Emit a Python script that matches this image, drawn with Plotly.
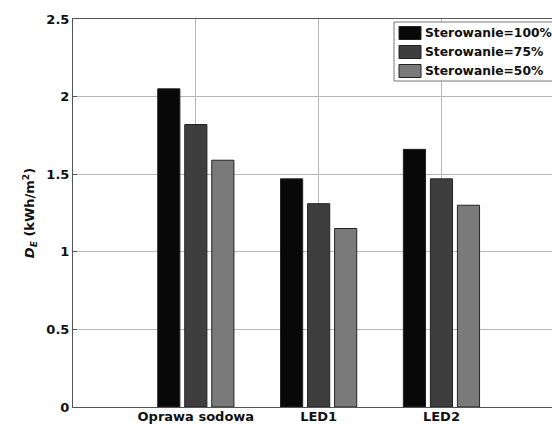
import plotly.graph_objects as go

categories = ["Oprawa sodowa", "LED1", "LED2"]
series_names = ["Sterowanie=100%", "Sterowanie=75%", "Sterowanie=50%"]
values_100 = [2.05, 1.47, 1.66]
values_75 = [1.82, 1.31, 1.47]
values_50 = [1.59, 1.15, 1.30]
colors = ["#080808", "#3e3e3e", "#7a7a7a"]
y_ticks = [0, 0.5, 1, 1.5, 2, 2.5]
y_ticklabels = ["0", "0.5", "1", "1.5", "2", "2.5"]

FAM = "DejaVu Sans, Verdana, sans-serif"
W, H = 552, 425
L, R, T, B = 73, 0, 19, 18
PW, PH = W - L - R, H - T - B


def px(xp):
    return (xp - L) / PW


def py(yp):
    return (H - B - yp) / PH


fig = go.Figure()
for name, vals, col in zip(series_names, [values_100, values_75, values_50], colors):
    fig.add_trace(go.Bar(
        x=categories, y=vals, name=name, showlegend=False,
        marker=dict(color=col, line=dict(color="#222222", width=1)),
    ))

# custom legend (box, swatches, labels)
shapes = [dict(type="rect", xref="paper", yref="paper",
               x0=px(394), x1=px(560), y0=py(81), y1=py(22),
               line=dict(color="#777777", width=1), fillcolor="white", layer="above")]
annotations = []
for i, (name, col) in enumerate(zip(series_names, colors)):
    cy = 33 + i * 19
    shapes.append(dict(type="rect", xref="paper", yref="paper",
                       x0=px(399), x1=px(421), y0=py(cy + 6.5), y1=py(cy - 6.5),
                       line=dict(color="#222222", width=1), fillcolor=col, layer="above"))
    annotations.append(dict(xref="paper", yref="paper", x=px(423), y=py(cy),
                            xanchor="left", yanchor="middle", showarrow=False,
                            text="<b>%s</b>" % name,
                            font=dict(family=FAM, size=12.3, color="#111111")))

fig.update_layout(
    width=W, height=H,
    margin=dict(l=L, r=R, t=T, b=B, autoexpand=False),
    paper_bgcolor="white", plot_bgcolor="white",
    barmode="group", bargap=0.34, bargroupgap=0.18,
    font=dict(family=FAM, size=13, color="#111111"),
    showlegend=False,
    shapes=shapes,
    annotations=annotations,
    xaxis=dict(
        type="category", range=[-1, 2.9],
        tickvals=categories, ticktext=["<b>%s</b>" % c for c in categories],
        showgrid=True, gridcolor="#b8b8b8", gridwidth=1,
        showline=True, linecolor="#555555", linewidth=1, mirror=True,
        ticks="", tickfont=dict(family=FAM, size=13, color="#111111"),
        ticklabelstandoff=-3,
    ),
    yaxis=dict(
        range=[0, 2.5], tickvals=y_ticks, ticktext=["<b>%s</b>" % t for t in y_ticklabels],
        tickfont=dict(family=FAM, size=13, color="#111111"),
        showgrid=True, gridcolor="#b8b8b8", gridwidth=1,
        showline=True, linecolor="#555555", linewidth=1, mirror=True,
        ticks="inside", ticklen=4, tickcolor="#555555",
        zeroline=False,
        title=dict(text="<b><i>D</i><sub><i>E</i></sub> (kWh/m<sup>2</sup>)</b>",
                   font=dict(family=FAM, size=13, color="#111111"),
                   standoff=8),
    ),
)

fig.write_html("out.html")
